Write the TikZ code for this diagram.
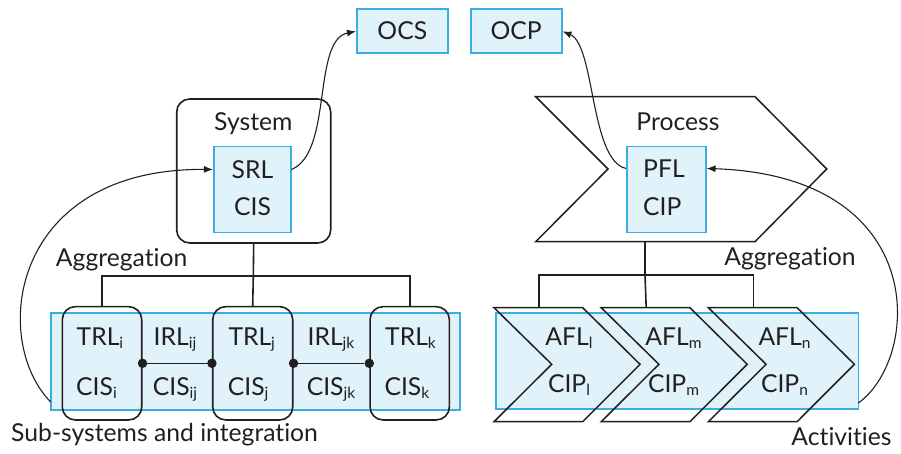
\documentclass[tikz,border=0pt]{standalone}
\usepackage{fontspec}
\setmainfont{Lato}[Ligatures=NoCommon]
\usetikzlibrary{arrows.meta}
\definecolor{bb}{HTML}{3AAEE3}
\definecolor{bf}{HTML}{E1F3FA}
\definecolor{ink}{HTML}{231F20}
\newcommand{\sbs}[1]{\raisebox{-0.25ex}{\fontsize{15.5}{15.5}\selectfont #1}}
\begin{document}
\begin{tikzpicture}[x=1pt,y=-1pt,
  every node/.style={text=ink,font=\fontsize{24.7}{28}\selectfont,inner sep=0pt},
  bluebox/.style={draw=bb,fill=bf,line width=1.7pt},
  grp/.style={draw=ink,line width=1.6pt,rounded corners=13pt},
  tree/.style={draw=ink,line width=1.6pt},
  curve/.style={draw=ink,line width=1.1pt,-{Latex[length=9pt,width=7pt]}},
  plain/.style={draw=ink,line width=1.5pt},
  dotn/.style={circle,fill=ink,minimum size=9.5pt,inner sep=0pt},
  lbl/.style={anchor=base}]
\useasboundingbox (0,0) rectangle (901,454);
% top output boxes
\node[bluebox,minimum width=91pt,minimum height=44pt] (ocs) at (402.3,31.3) {};
\node[lbl] (ocst) at (402.3,40) {OCS};
\node[bluebox,minimum width=91pt,minimum height=44pt] (ocp) at (516.2,31.3) {};
\node[lbl] (ocpt) at (516.2,40) {OCP};
% system
\node[grp,minimum width=154pt,minimum height=144pt] (sys) at (253.7,171) {};
\node[lbl] (syst) at (253.3,131) {System};
\node[bluebox,minimum width=77pt,minimum height=86pt] (srl) at (252.3,189.5) {};
\node[lbl] (srlt) at (252.5,178.3) {SRL};
\node[lbl] (srlc) at (252.5,215) {CIS};
% process
\draw[plain] (535.7,96.7) -- (755,96.7) -- (826.7,169) -- (755,241.7) -- (535.7,241.7) -- (608,169) -- cycle;
\coordinate (procb) at (645,241.7);
\node[lbl] (proct) at (678,131) {Process};
\node[bluebox,minimum width=79pt,minimum height=86pt] (pfl) at (666.2,189.5) {};
\node[lbl,anchor=base west] (pflt) at (643,177.3) {PFL};
\node[lbl,anchor=base west] (pflc) at (643,215) {CIP};
% left band
\node[bluebox,minimum width=409pt,minimum height=97pt] (lband) at (255.3,361.6) {};
\node[grp,minimum width=79.4pt,minimum height=113.3pt] (tb1) at (102,363.3) {};
\node[grp,minimum width=80pt,minimum height=113.3pt] (tb2) at (252.7,363.3) {};
\node[grp,minimum width=79.3pt,minimum height=113.3pt] (tb3) at (409.7,363.3) {};
\node[lbl,anchor=base west] (trli) at (76.5,345) {TRL\sbs{i}};
\node[lbl,anchor=base west] (cisi) at (76,395) {CIS\sbs{i}};
\node[lbl] (irlij) at (175,345) {IRL\sbs{ij}};
\node[lbl] (cisij) at (175,395) {CIS\sbs{ij}};
\node[lbl,anchor=base west] (trlj) at (228.3,345) {TRL\sbs{j}};
\node[lbl,anchor=base west] (cisj) at (227.7,395) {CIS\sbs{j}};
\node[lbl] (irljk) at (331,345) {IRL\sbs{jk}};
\node[lbl] (cisjk) at (331,395) {CIS\sbs{jk}};
\node[lbl,anchor=base west] (trlk) at (385,345) {TRL\sbs{k}};
\node[lbl,anchor=base west] (cisk) at (384.3,395) {CIS\sbs{k}};
\node[dotn] (d1) at (tb1.east) {};
\node[dotn] (d2) at (tb2.west) {};
\node[dotn] (d3) at (tb2.east) {};
\node[dotn] (d4) at (tb3.west) {};
\draw[tree] (d1) -- (d2);
\draw[tree] (d3) -- (d4);
% left tree
\coordinate (lj) at (253.3,276);
\draw[tree] (sys.south) -- (lj);
\draw[tree] (tb1.north) |- (lj) -| (tb3.north);
\draw[tree] (lj) -- (tb2.north);
\node[lbl] (aggl) at (121.7,266.5) {Aggregation};
\node[lbl,anchor=base west] (subs) at (11,441) {Sub-systems and integration};
% right band
\node[bluebox,minimum width=362.3pt,minimum height=96pt] (rband) at (677.2,361.3) {};
\foreach \i/\dx in {1/0,2/107.2,3/214.4}{
  \draw[plain] (494+\dx,307.7) -- (582.7+\dx,307.7) -- (640+\dx,364.3) -- (582.7+\dx,421.7) -- (494+\dx,421.7) -- (551.7+\dx,364.3) -- cycle;
  \coordinate (ch\i) at (539+\dx,307.7);
}
\node[lbl] (afll) at (569,345) {AFL\sbs{l}};
\node[lbl] (cipl) at (569,392) {CIP\sbs{l}};
\node[lbl] (aflm) at (673.5,345) {AFL\sbs{m}};
\node[lbl] (cipm) at (673.5,392) {CIP\sbs{m}};
\node[lbl] (afln) at (784.5,345) {AFL\sbs{n}};
\node[lbl] (cipn) at (784.5,392) {CIP\sbs{n}};
% right tree
\coordinate (rj) at (645,275);
\draw[tree] (procb) -- (rj);
\draw[tree] (ch1) |- (rj) -| (ch3);
\draw[tree] (rj) -- (ch2);
\node[lbl] (aggr) at (790,265.5) {Aggregation};
\node[lbl] (act) at (841.5,445) {Activities};
% connectors
\coordinate (srlo) at (srl.east |- srlt.center);
\coordinate (srli) at (srl.west |- srlt.center);
\coordinate (pflo) at (pfl.west |- pflt.center);
\coordinate (pfli) at (pfl.east |- pflt.center);
\coordinate (lbs) at (50.7,402);
\coordinate (rbs) at (858.3,403);
\draw[curve] (srlo) .. controls (333,152) and (312,40) .. (ocs.west);
\draw[curve] (pflo) .. controls (590,160) and (595,45) .. (ocp.east);
\draw[curve] (lbs) .. controls (-10,340) and (10,168) .. (srli);
\draw[curve] (rbs) .. controls (921,358) and (931,176) .. (pfli);
\end{tikzpicture}
\end{document}
